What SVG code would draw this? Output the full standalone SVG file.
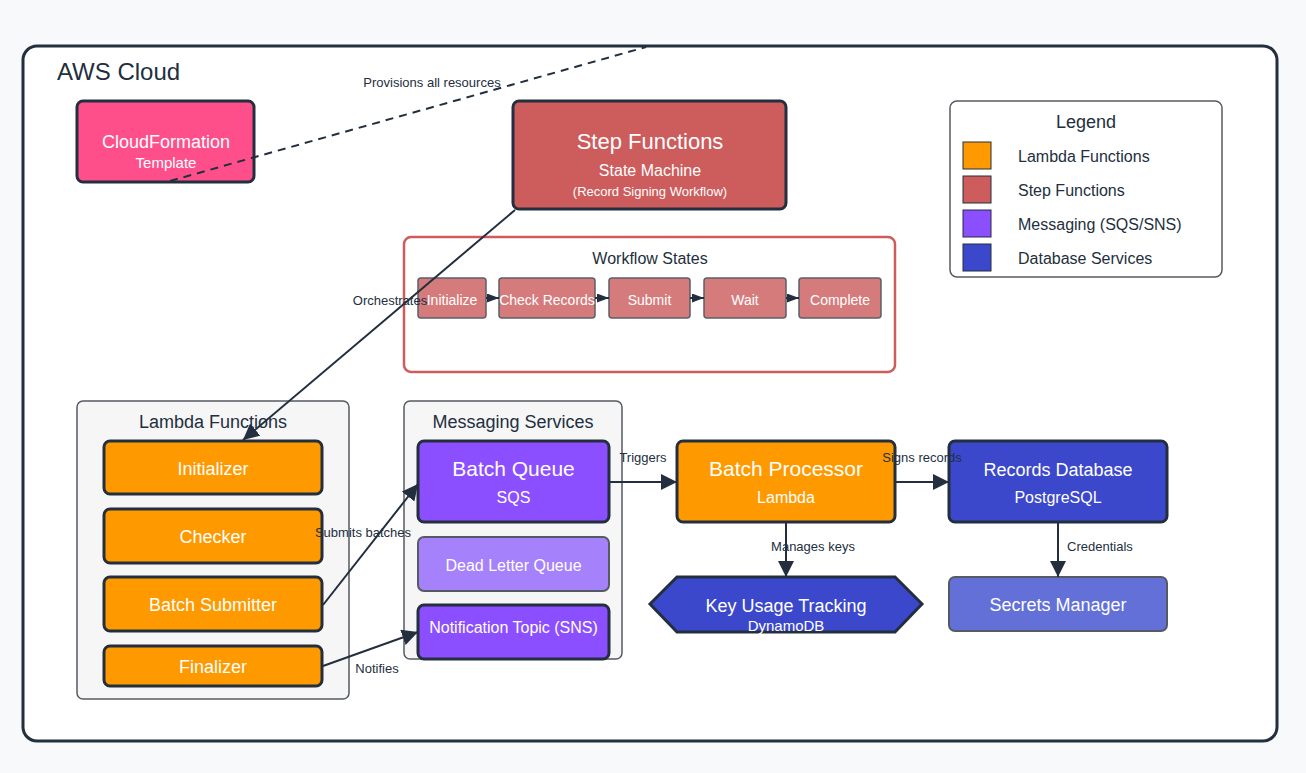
<svg xmlns="http://www.w3.org/2000/svg" width="1306" height="773" viewBox="0 0 1306 773">
<style>
text{font-family:"Liberation Sans",Arial,sans-serif;}
.w{fill:#ffffff;text-anchor:middle;}
.d{fill:#232f3e;}
.c{text-anchor:middle;}
.lbl{fill:#232f3e;font-size:13px;text-anchor:middle;}
.node{stroke:#232f3e;stroke-width:3;}
.soft{stroke:#555b63;stroke-width:2;}
.grp{fill:#f6f6f6;stroke:#555b63;stroke-width:1.5;}
.orange{fill:#ff9900;}
.purple{fill:#8c4fff;}
.blue{fill:#3b48cc;}
.state{fill:#d67b7b;stroke:#5a6068;stroke-width:1.5;}
.edge{fill:none;stroke:#232f3e;stroke-width:2;}
</style>
<defs>
<marker id="arr" viewBox="0 0 10 10" refX="10" refY="5" markerWidth="12" markerHeight="9" markerUnits="userSpaceOnUse" orient="auto" preserveAspectRatio="none">
<path d="M0,0 L10,5 L0,10 z" fill="#232f3e"/>
</marker>
<marker id="arrL" viewBox="0 0 10 10" refX="10" refY="5" markerWidth="16" markerHeight="16" markerUnits="userSpaceOnUse" orient="auto">
<path d="M0,0 L10,5 L0,10 z" fill="#232f3e"/>
</marker>
</defs>
<rect x="0" y="0" width="1306" height="773" fill="#f8f9fa"/>
<g id="aws-cloud">
<rect x="23" y="46" width="1254" height="695" rx="14" fill="#ffffff" stroke="#232f3e" stroke-width="3"/>
<text x="57" y="80" font-size="24" class="d">AWS Cloud</text>
</g>
<g id="cloudformation">
<rect x="77" y="101" width="177" height="81" rx="6" fill="#ff4f8b" class="node"/>
<text x="166" y="148" font-size="18" class="w">CloudFormation</text>
<text x="166" y="168" font-size="15" class="w">Template</text>
</g>
<g id="step-functions">
<rect x="513" y="101" width="273" height="108" rx="6" fill="#cd5c5c" class="node"/>
<text x="650" y="149" font-size="22" class="w">Step Functions</text>
<text x="650" y="176" font-size="16" class="w">State Machine</text>
<text x="650" y="196" font-size="13" class="w">(Record Signing Workflow)</text>
</g>
<g id="workflow-states">
<rect x="404" y="237" width="491" height="135" rx="7" fill="#ffffff" stroke="#d05b5b" stroke-width="2.5"/>
<text x="650" y="264" font-size="16" class="d c">Workflow States</text>
<g id="state-initialize"><rect x="418" y="278" width="68" height="40" rx="3" class="state"/><text x="452" y="305" font-size="14" class="w">Initialize</text></g>
<g id="state-check"><rect x="499" y="278" width="96" height="40" rx="3" class="state"/><text x="547" y="305" font-size="14" class="w">Check Records</text></g>
<g id="state-submit"><rect x="609" y="278" width="81" height="40" rx="3" class="state"/><text x="649.5" y="305" font-size="14" class="w">Submit</text></g>
<g id="state-wait"><rect x="704" y="278" width="82" height="40" rx="3" class="state"/><text x="745" y="305" font-size="14" class="w">Wait</text></g>
<g id="state-complete"><rect x="799" y="278" width="82" height="40" rx="3" class="state"/><text x="840" y="305" font-size="14" class="w">Complete</text></g>
</g>
<g id="lambda-functions">
<rect x="77" y="401" width="272" height="298" rx="6" class="grp"/>
<text x="213" y="428" font-size="18" class="d c">Lambda Functions</text>
<g id="initializer"><rect x="104" y="441" width="218" height="53" rx="6" class="node orange"/><text x="213" y="475" font-size="18" class="w">Initializer</text></g>
<g id="checker"><rect x="104" y="509" width="218" height="54" rx="6" class="node orange"/><text x="213" y="543" font-size="18" class="w">Checker</text></g>
<g id="batch-submitter"><rect x="104" y="577" width="218" height="54" rx="6" class="node orange"/><text x="213" y="611" font-size="18" class="w">Batch Submitter</text></g>
<g id="finalizer"><rect x="104" y="646" width="218" height="40" rx="6" class="node orange"/><text x="213" y="673" font-size="18" class="w">Finalizer</text></g>
</g>
<g id="messaging-services">
<rect x="404" y="401" width="218" height="258" rx="6" class="grp"/>
<text x="513" y="428" font-size="18" class="d c">Messaging Services</text>
<g id="batch-queue"><rect x="418" y="441" width="191" height="81" rx="6" class="node purple"/><text x="513.5" y="476" font-size="21" class="w">Batch Queue</text><text x="513.5" y="503" font-size="16" class="w">SQS</text></g>
<g id="dead-letter-queue"><rect x="418" y="537" width="191" height="54" rx="6" fill="#a681fc" class="soft"/><text x="513.5" y="571" font-size="16" class="w">Dead Letter Queue</text></g>
<g id="notification-topic"><rect x="418" y="605" width="191" height="54" rx="6" class="node purple"/><text x="513.5" y="633" font-size="16" class="w">Notification Topic (SNS)</text></g>
</g>
<g id="batch-processor"><rect x="677" y="441" width="218" height="81" rx="6" class="node orange"/><text x="786" y="476" font-size="21" class="w">Batch Processor</text><text x="786" y="503" font-size="16" class="w">Lambda</text></g>
<g id="records-database"><rect x="949" y="441" width="218" height="81" rx="6" class="node blue"/><text x="1058" y="476" font-size="18" class="w">Records Database</text><text x="1058" y="503" font-size="16" class="w">PostgreSQL</text></g>
<g id="key-usage-tracking"><polygon points="650,604 677,577 895,577 922,604 895,632 677,632" class="node blue"/><text x="786" y="612" font-size="18" class="w">Key Usage Tracking</text><text x="786" y="631" font-size="15" class="w">DynamoDB</text></g>
<g id="secrets-manager"><rect x="949" y="577" width="218" height="54" rx="6" fill="#6270d8" class="soft"/><text x="1058" y="611" font-size="18" class="w">Secrets Manager</text></g>
<g id="legend">
<rect x="950" y="101" width="272" height="176" rx="7" fill="#ffffff" stroke="#555b63" stroke-width="1.5"/>
<text x="1086" y="128" font-size="18" class="d c">Legend</text>
<rect x="963" y="142" width="28" height="27" fill="#ff9900" stroke="#232f3e" stroke-width="1"/>
<rect x="963" y="176" width="28" height="27" fill="#cd5c5c" stroke="#232f3e" stroke-width="1"/>
<rect x="963" y="210" width="28" height="27" fill="#8c4fff" stroke="#232f3e" stroke-width="1"/>
<rect x="963" y="244" width="28" height="27" fill="#3b48cc" stroke="#232f3e" stroke-width="1"/>
<text x="1018" y="162" font-size="16" class="d">Lambda Functions</text>
<text x="1018" y="196" font-size="16" class="d">Step Functions</text>
<text x="1018" y="230" font-size="16" class="d">Messaging (SQS/SNS)</text>
<text x="1018" y="264" font-size="16" class="d">Database Services</text>
</g>
<g id="connectors">
<line x1="170" y1="181" x2="646" y2="47" class="edge" stroke-dasharray="8,6"/>
<line x1="486" y1="298" x2="499" y2="298" class="edge" marker-end="url(#arr)"/>
<line x1="595" y1="298" x2="609" y2="298" class="edge" marker-end="url(#arr)"/>
<line x1="690" y1="298" x2="704" y2="298" class="edge" marker-end="url(#arr)"/>
<line x1="786" y1="298" x2="799" y2="298" class="edge" marker-end="url(#arr)"/>
<line x1="515" y1="210" x2="243" y2="440" class="edge" marker-end="url(#arrL)"/>
<line x1="323" y1="605" x2="418" y2="484" class="edge" marker-end="url(#arrL)"/>
<line x1="323" y1="666" x2="418" y2="632" class="edge" marker-end="url(#arrL)"/>
<line x1="609" y1="482" x2="677" y2="482" class="edge" marker-end="url(#arrL)"/>
<line x1="895" y1="482" x2="949" y2="482" class="edge" marker-end="url(#arrL)"/>
<line x1="786" y1="522" x2="786" y2="577" class="edge" marker-end="url(#arrL)"/>
<line x1="1058" y1="522" x2="1058" y2="577" class="edge" marker-end="url(#arrL)"/>
<text x="432" y="87" class="lbl">Provisions all resources</text>
<text x="390" y="305" class="lbl">Orchestrates</text>
<text x="363" y="537" class="lbl">Submits batches</text>
<text x="377" y="673" class="lbl">Notifies</text>
<text x="643" y="462" class="lbl">Triggers</text>
<text x="922" y="462" class="lbl">Signs records</text>
<text x="813" y="551" class="lbl">Manages keys</text>
<text x="1100" y="551" class="lbl">Credentials</text>
</g>
</svg>
